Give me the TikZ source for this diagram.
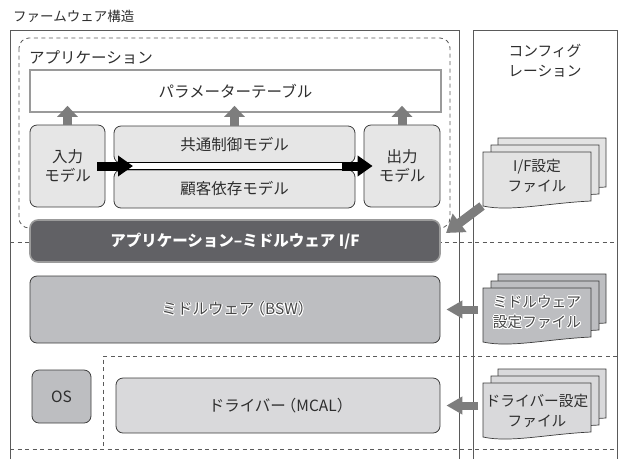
\documentclass[tikz,border=0pt]{standalone}
\usepackage{fontspec}
\setmainfont{Noto Sans CJK JP}
\usepackage[copies]{contour}
\contourlength{0.9pt}
\contournumber{16}
\usetikzlibrary{arrows.meta}
\definecolor{txt}{HTML}{2E2E2E}
\definecolor{linec}{HTML}{3C3C3C}
\definecolor{framec}{HTML}{5A5A5A}
\definecolor{lightfill}{HTML}{E6E6E6}
\definecolor{midfill}{HTML}{BDBEC1}
\definecolor{drvfill}{HTML}{D9D9DB}
\definecolor{iffill}{HTML}{E3E3E3}
\definecolor{barfill}{HTML}{616165}
\definecolor{barline}{HTML}{9B9B9B}
\definecolor{arrowgray}{HTML}{7D7D7D}
\definecolor{paramline}{HTML}{9A9A9A}
\definecolor{outtxt}{HTML}{474747}
\newcommand\docstack[3]{%
  \foreach \dx/\dy in {15/-14, 8/-7, 0/0}{%
    \begin{scope}[shift={(#1+\dx,#2+\dy)}]
      \filldraw[fill=#3, draw=linec, line width=0.7pt]
        (0,0) -- (108,0) -- (108,49) .. controls (65,51) and (27,60) .. (0,54) -- cycle;
    \end{scope}}}
\begin{document}
\begin{tikzpicture}[x=1pt,y=-1pt,
  every node/.style={text=txt, inner sep=0pt},
  fs/.style={font=\fontsize{15.5}{19}\selectfont},
  model/.style={draw=linec, fill=#1, line width=0.8pt, rounded corners=7pt, fs, align=center},
  frame/.style={draw=framec, line width=0.8pt},
  dashline/.style={draw=framec, line width=0.8pt, dash pattern=on 4pt off 3.5pt},
  uparrow/.style={draw=arrowgray, line width=9pt, -{Triangle[width=20pt,length=11pt]}},
  sidearrow/.style={draw=arrowgray, line width=8pt, -{Triangle[width=17pt,length=16pt]}},
  blackarrow/.style={draw=black, line width=9pt, -{Triangle[width=20pt,length=15pt]}},
  filetext/.style={font=\fontsize{14.7}{20}\selectfont, align=center}
]
\path[use as bounding box] (0,0) rectangle (620,459);

% frames
\node[anchor=west, font=\fontsize{13.5}{16}\selectfont] (title) at (13,16) {ファームウェア構造};
\draw[frame] (10,459) -- (10,30) -- (459,30) -- (459,459);
\draw[frame] (473,459) -- (473,30) -- (617,30) -- (617,459);
\node[align=center, font=\fontsize{14.7}{20}\selectfont] (cfg) at (545,60.5) {コンフィグ\\レーション};

% dashed separators
\draw[dashline] (10,242) -- (617,242);
\draw[dashline] (617,356) -- (103,356) -- (103,449);
\draw[dashline] (10,449) -- (617,449);

% application
\draw[dashline, rounded corners=10pt] (19,38) rectangle (450,228);
\node[anchor=west, fs] (applabel) at (29,57) {アプリケーション};
\node[draw=paramline, line width=1.6pt, fill=white, minimum width=411pt, minimum height=42pt, fs] (param) at (235.5,91) {パラメーターテーブル};

\node[model=lightfill, minimum width=75pt, minimum height=82pt] (in) at (67.5,166) {入力\\モデル};
\node[model=lightfill, minimum width=76pt, minimum height=82pt] (out) at (402,166) {出力\\モデル};
\node[model=lightfill, minimum width=241pt, minimum height=37pt] (common) at (234.5,144.5) {共通制御モデル};
\node[model=lightfill, minimum width=241pt, minimum height=38pt] (cust) at (234.5,189) {顧客依存モデル};

\draw[uparrow, shorten >=-7pt] (in.north) -- (in.north |- param.south);
\draw[uparrow, shorten >=-7pt] (common.north) -- (common.north |- param.south);
\draw[uparrow, shorten >=-7pt] (out.north) -- (out.north |- param.south);

\coordinate (bandL) at (133,166);
\coordinate (bandR) at (342,166);
\draw[line width=8.5pt, black] ([xshift=-8pt]bandL) -- (bandR);
\draw[line width=6pt, white] ([xshift=-4pt]bandL) -- (bandR);
\draw[blackarrow, shorten <=-8pt] (in.east) -- (bandL);
\draw[blackarrow, shorten >=-9pt] (bandR) -- (out.west);

% interface bar
\node[draw=barline, line width=1.6pt, fill=barfill, rounded corners=8pt, minimum width=410pt, minimum height=42pt,
      text=white, font=\fontsize{15.5}{18}\selectfont\bfseries] (apimw) at (235,241) {アプリケーション–ミドルウェア I/F};

% middleware / OS / driver
\node[model=midfill, minimum width=410pt, minimum height=67pt, text=outtxt] (mw) at (235,309.5) {\contour{white}{ミドルウェア\kern-5pt（BSW）\kern-5pt}};
\node[model=midfill, minimum width=59pt, minimum height=53pt] (os) at (61.5,396.5) {OS};
\node[model=drvfill, minimum width=324pt, minimum height=55pt] (drv) at (278,405.5) {ドライバー\kern-5pt（MCAL）\kern-5pt};

% configuration arrows
\coordinate (ifsrc) at (482,206);
\coordinate (iftip) at (446,233);
\draw[draw=arrowgray, line width=9pt, -{Triangle[width=22pt,length=17pt]}] (ifsrc) -- (iftip);
\coordinate (mwsrc) at (478,309.5);
\draw[sidearrow, shorten >=6pt] (mwsrc) -- (mw.east);
\coordinate (drvsrc) at (478,405.5);
\draw[sidearrow, shorten >=6pt] (drvsrc) -- (drv.east);

% configuration files
\docstack{483}{152}{iffill}
\node[filetext] (iffile) at (537,176) {I/F設定\\ファイル};
\docstack{483}{288}{midfill}
\node[filetext, text=outtxt] (mwfile) at (537,313) {\contour{white}{ミドルウェア}\\\contour{white}{設定ファイル}};
\docstack{483}{383}{drvfill}
\node[filetext] (drvfile) at (537,411) {ドライバー設定\\ファイル};
\end{tikzpicture}
\end{document}
